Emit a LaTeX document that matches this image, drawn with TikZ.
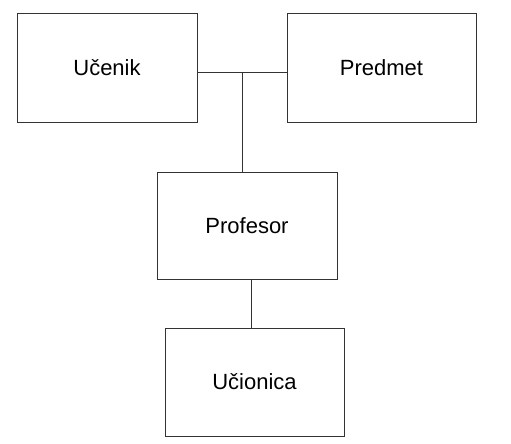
\documentclass[tikz,border=0pt]{standalone}
\usepackage{fontspec}
\setmainfont{Liberation Sans}
\usepackage{tikz}

\begin{document}
\begin{tikzpicture}[x=1pt,y=-1pt,
		entitet/.style={draw=black!80, line width=1pt, minimum height=108pt, inner sep=0pt,
				font=\fontsize{22}{26}\selectfont},
		veza/.style={draw=black!80, line width=1pt}]
			\useasboundingbox (0,0) rectangle (511,444);

			% boxes
			\node[entitet, minimum width=180pt] (ucenik) at (107,68) {Učenik};
			\node[entitet, minimum width=189pt] (predmet) at (381.5,68) {Predmet};
			\node[entitet, minimum width=180pt, minimum height=107pt] (profesor) at (247,225.5) {Profesor};
			\node[entitet, minimum width=179pt] (ucionica) at (254.5,382) {Učionica};

			% connectors
			\coordinate (spoj) at (242,72);
			\draw[veza] (ucenik.east |- spoj) -- (predmet.west |- spoj);
			\draw[veza] (spoj) -- (profesor.north -| spoj);
			\draw[veza] ([xshift=4pt]profesor.south) -- ([xshift=4pt]profesor.south |- ucionica.north);
		\end{tikzpicture}
\end{document}
